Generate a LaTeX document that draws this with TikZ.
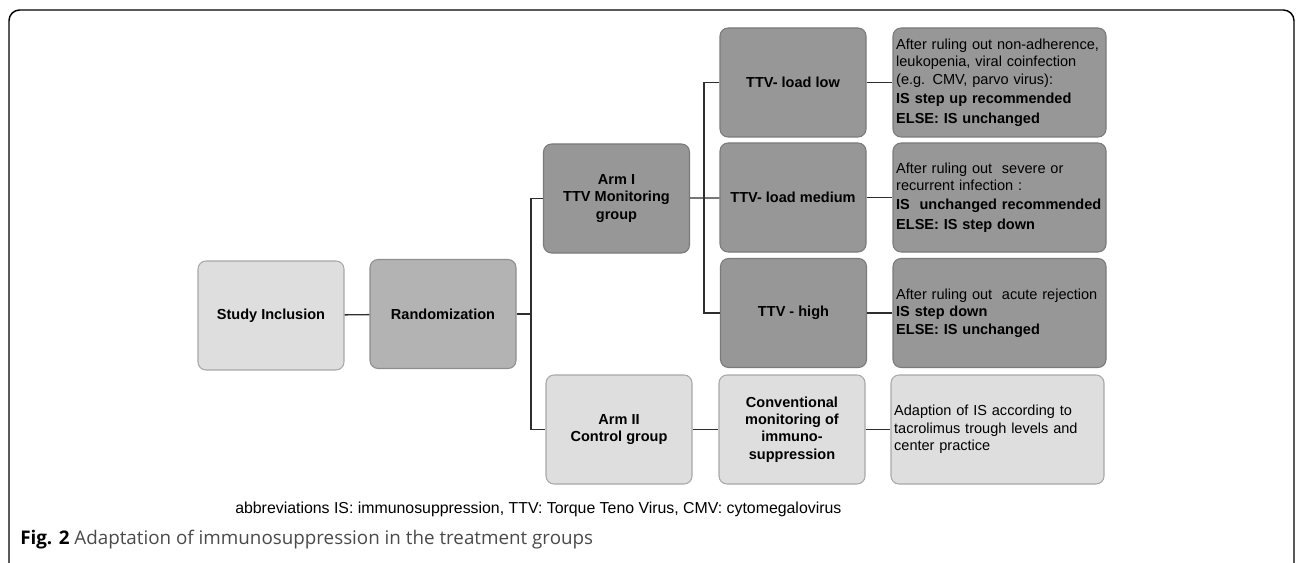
\documentclass[tikz,border=0pt]{standalone}
\usepackage{fontspec}
\setmainfont{Liberation Sans}
\newfontfamily\capfont{Open Sans}
\usepackage{xcolor}
\usepackage{tikz}

\definecolor{boxlight}{HTML}{DEDEDE}
\definecolor{edgelight}{HTML}{A8A8A8}
\definecolor{boxmid}{HTML}{B3B3B3}
\definecolor{edgemid}{HTML}{8E8E8E}
\definecolor{boxdark}{HTML}{979797}
\definecolor{edgedark}{HTML}{7A7A7A}
\definecolor{linkgray}{HTML}{2E2E2E}
\definecolor{capgray}{HTML}{4A4A4A}

\tikzset{
  box/.style={rounded corners=6pt, minimum width=109.5pt, minimum height=81.75pt,
    align=center, inner sep=2pt, line width=0.8pt,
    font=\fontsize{10.9}{13.1}\selectfont\bfseries},
  notebox/.style={box, minimum width=159.75pt, text width=155pt, align=left,
    inner xsep=2.25pt, font=\fontsize{10.9}{13.1}\selectfont},
  light/.style={fill=boxlight, draw=edgelight},
  medium/.style={fill=boxmid, draw=edgemid},
  dark/.style={fill=boxdark, draw=edgedark},
  link/.style={draw=linkgray, line width=1pt}
}

\begin{document}
\begin{tikzpicture}[x=0.75pt,y=-0.75pt]
\useasboundingbox (0,0) rectangle (1296,563);
% outer frame, open at the bottom of the page
\draw[line width=1.1pt, rounded corners=8pt] (9,10) rectangle (1294,585);

% --- left column ---
\node[box,light] (incl) at (271,315.5) {Study Inclusion};
\node[box,medium] (rand) at (443,314) {Randomization};

% --- arms ---
\node[box,dark] (arm1) at (616.5,198.5) {Arm I\\TTV Monitoring\\group};
\node[box,light] (arm2) at (619,429.5) {Arm II\\Control group};

% --- TTV load levels ---
\node[box,dark] (low) at (793,82.5) {TTV- load low};
\node[box,dark] (med) at (793,197.5) {TTV- load medium};
\node[box,dark] (high) at (793.5,313) {TTV - high};
\node[box,light] (conv) at (792,429.5) {Conventional\\monitoring of\\immuno-\\suppression};

% --- recommendations ---
\node[notebox,dark] (lownote) at (999.5,82.5) {After ruling out non-adherence,\\
  leukopenia, viral coinfection\\
  (e.g. CMV, parvo virus):\\[1.5pt]
  \textbf{IS step up recommended}\\[1.5pt]
  \textbf{ELSE: IS unchanged}};
\node[notebox,dark] (mednote) at (999.5,197.5) {After ruling out\ \ severe or\\
  recurrent infection :\\[1.5pt]
  \textbf{IS\ \ unchanged recommended}\\[1.5pt]
  \textbf{ELSE: IS step down}};
\node[notebox,dark] (highnote) at (999.5,313) {After ruling out\ \ acute rejection\\
  \textbf{IS step down}\\
  \textbf{ELSE: IS unchanged}};
\node[notebox,light] (convnote) at (997.5,429.5) {Adaption of IS according to\\
  tacrolimus trough levels and\\
  center practice};

% --- connectors ---
\coordinate (armfork) at (531,314);
\coordinate (loadfork) at (704,198.5);
\draw[link] (incl) -- (rand);
\draw[link] (rand) -- (armfork);
\draw[link] (arm1.west) -| (armfork) |- (arm2.west);
\draw[link] (arm1) -- (med);
\draw[link] (low.west) -| (loadfork) |- (high.west);
\draw[link] (low) -- (lownote);
\draw[link] (med) -- (mednote);
\draw[link] (high) -- (highnote);
\draw[link] (arm2) -- (conv);
\draw[link] (conv) -- (convnote);

% --- footnote and caption ---
\node[anchor=base west, inner sep=0pt, font=\fontsize{11.9}{14}\selectfont] (abbr) at (235,513)
  {abbreviations IS: immunosuppression, TTV: Torque Teno Virus, CMV: cytomegalovirus};
\node[anchor=base west, inner sep=0pt, font=\capfont\fontsize{14.1}{16}\selectfont, text=capgray] (fig) at (20,544)
  {\textcolor{black}{\textbf{Fig. 2}} Adaptation of immunosuppression in the treatment groups};
\end{tikzpicture}
\end{document}
